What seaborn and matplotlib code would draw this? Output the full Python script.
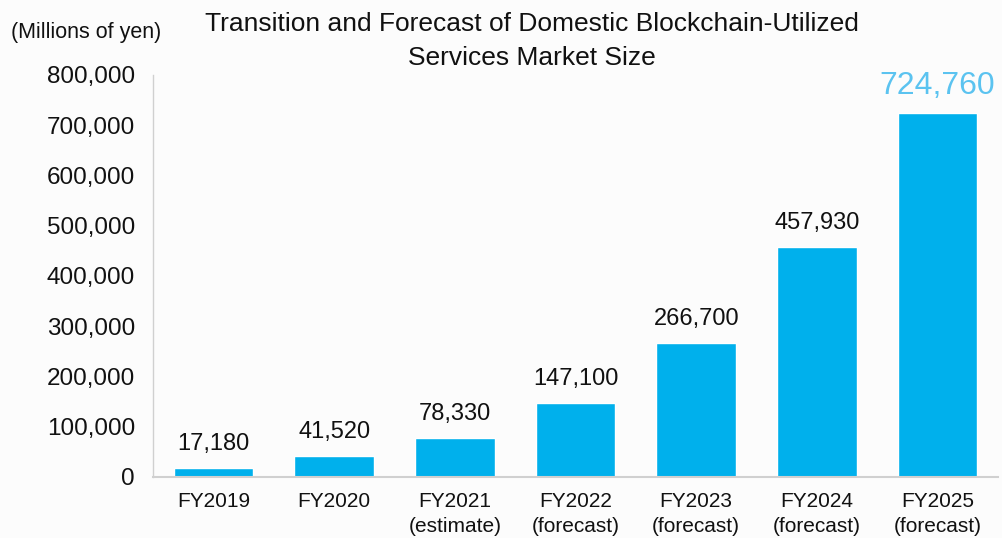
import numpy as np
import pandas as pd
import matplotlib
matplotlib.use('Agg')
import matplotlib.pyplot as plt
import seaborn as sns

years = ['FY2019', 'FY2020', 'FY2021', 'FY2022', 'FY2023', 'FY2024', 'FY2025']
notes = ['', '', '(estimate)', '(forecast)', '(forecast)', '(forecast)', '(forecast)']
values = [17180, 41520, 78330, 147100, 266700, 457930, 724760]

labels = [y if n == '' else y + '\n' + n for y, n in zip(years, notes)]
df = pd.DataFrame({'year': labels, 'value': values})

sns.set_theme(style='white')
plt.rcParams['font.family'] = ['Liberation Sans', 'DejaVu Sans']

bg = '#FCFCFC'
fig = plt.figure(figsize=(10.02, 5.38), dpi=100, facecolor=bg)
ax = fig.add_axes([0.1527, 0.1134, 0.8433, 0.7472], facecolor=bg)

sns.barplot(data=df, x='year', y='value', color='#00B0EC', width=0.66,
            saturation=1, ax=ax)

for i, v in enumerate(values):
    if i == len(values) - 1:
        ax.text(i, v + 24000, f'{v:,}', ha='center', va='bottom',
                fontsize=23, color='#5BC3F0')
    else:
        ax.text(i, v + 26000, f'{v:,}', ha='center', va='bottom',
                fontsize=17, color='#111111')

ax.set_ylim(0, 800000)
ax.set_xlim(-0.5, 6.5)
ax.set_yticks(np.arange(0, 800001, 100000))
ax.set_yticklabels([f'{t:,}' for t in range(0, 800001, 100000)], fontsize=17.5)
ax.tick_params(axis='y', length=5, width=1, pad=8, colors='#111111')
ax.tick_params(axis='y', color='#D0D0D0')
ax.tick_params(axis='x', length=0, pad=11, labelsize=15, colors='#111111')
for t in ax.get_xticklabels():
    t.set_linespacing(1.35)
ax.set_xlabel('')
ax.set_ylabel('')

for s in ['top', 'right']:
    ax.spines[s].set_visible(False)
ax.spines['left'].set_color('#D0D0D0')
ax.spines['bottom'].set_color('#D0D0D0')
ax.spines['left'].set_linewidth(1)
ax.spines['bottom'].set_linewidth(1.5)

fig.text(0.531, 0.978, 'Transition and Forecast of Domestic Blockchain-Utilized\nServices Market Size',
         ha='center', va='top', fontsize=19, color='#111111', linespacing=1.55)
fig.text(0.086, 0.94, '(Millions of yen)', ha='center', va='center',
         fontsize=15.5, color='#111111')

plt.savefig('out.png', dpi=100, facecolor=bg)
